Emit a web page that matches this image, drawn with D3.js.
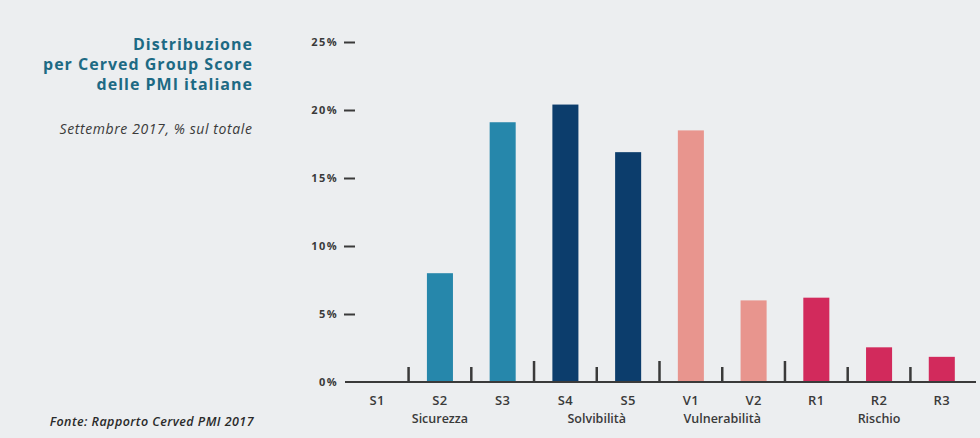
<!DOCTYPE html>
<html>
<head>
<meta charset="utf-8">
<script src="https://cdn.jsdelivr.net/npm/d3@7"></script>
<style>
  html, body { margin: 0; padding: 0; background: #eceef0; }
  svg { display: block; }
  text { font-family: "Open Sans", "Noto Sans", sans-serif; }
</style>
</head>
<body>
<svg id="chart" width="980" height="438"></svg>
<script>
// Cerved Group Score classes and share of Italian SMEs (%)
const categories = ["S1", "S2", "S3", "S4", "S5", "V1", "V2", "R1", "R2", "R3"];
const values = [0, 8.0, 19.1, 20.4, 16.9, 18.5, 6.0, 6.2, 2.55, 1.85];
const groupOf = ["sic", "sic", "sic", "sol", "sol", "vul", "vul", "ris", "ris", "ris"];

const groups = [
  { key: "sic", label: "Sicurezza", members: ["S1", "S2", "S3"] },
  { key: "sol", label: "Solvibilità", members: ["S4", "S5"] },
  { key: "vul", label: "Vulnerabilità", members: ["V1", "V2"] },
  { key: "ris", label: "Rischio", members: ["R1", "R2", "R3"] }
];
const groupColors = { sic: "#2687ab", sol: "#0c3d6c", vul: "#e8958e", ris: "#d22a5c" };

const yTicks = [0, 5, 10, 15, 20, 25];
const titleLines = ["Distribuzione", "per Cerved Group Score", "delle PMI italiane"];
const subtitle = "Settembre 2017, % sul totale";
const source = "Fonte: Rapporto Cerved PMI 2017";

const svg = d3.select("#chart");

const x = d3.scaleBand()
  .domain(categories)
  .range([346, 973])
  .paddingInner(0.585)
  .paddingOuter(0.29);

const y = d3.scaleLinear().domain([0, 25]).range([382, 42]);

// Bars
svg.append("g").selectAll("rect")
  .data(categories)
  .join("rect")
  .attr("x", d => x(d))
  .attr("width", x.bandwidth())
  .attr("y", (d, i) => y(values[i]))
  .attr("height", (d, i) => y(0) - y(values[i]))
  .attr("fill", (d, i) => groupColors[groupOf[i]]);

// Y axis: labels with a short dash, no domain line
const yAxis = d3.axisLeft(y)
  .tickValues(yTicks.filter(v => v > 0))
  .tickSize(0)
  .tickPadding(0)
  .tickFormat(d => d + "%");
const yg = svg.append("g").attr("transform", "translate(338,0)").call(yAxis);
yg.select(".domain").remove();
yg.selectAll(".tick text")
  .attr("fill", "#3a3a3a")
  .attr("font-size", 11)
  .attr("font-weight", 700)
  .attr("letter-spacing", "1.4")
  .attr("dy", "0.34em");
yg.selectAll(".tick").append("line")
  .attr("x1", 6).attr("x2", 17)
  .attr("stroke", "#3a3a3a")
  .attr("stroke-width", 2);

// Zero label and baseline
svg.append("text")
  .attr("x", 338).attr("y", y(0))
  .attr("dy", "0.34em")
  .attr("text-anchor", "end")
  .attr("fill", "#3a3a3a")
  .attr("font-size", 11)
  .attr("font-weight", 700)
  .attr("letter-spacing", "1.4")
  .text(yTicks[0] + "%");

svg.append("line")
  .attr("x1", 345).attr("x2", 976)
  .attr("y1", y(0)).attr("y2", y(0))
  .attr("stroke", "#3a3a3a")
  .attr("stroke-width", 2);

// Separators between classes; taller ones between groups
const step = x.step();
const separators = categories.slice(1).map((c, i) => ({
  pos: x(c) - (step - x.bandwidth()) / 2,
  major: groupOf[i] !== groupOf[i + 1]
}));
svg.append("g").selectAll("line")
  .data(separators)
  .join("line")
  .attr("x1", d => d.pos).attr("x2", d => d.pos)
  .attr("y1", y(0))
  .attr("y2", d => d.major ? y(0) - 21 : y(0) - 15)
  .attr("stroke", "#3a3a3a")
  .attr("stroke-width", 2.5);

// Class labels
const xAxis = d3.axisBottom(x).tickSize(0).tickPadding(0);
const xg = svg.append("g").attr("transform", "translate(0,400.5)").call(xAxis);
xg.select(".domain").remove();
xg.selectAll(".tick text")
  .attr("fill", "#3a3a3a")
  .attr("font-size", 13)
  .attr("font-weight", 600)
  .attr("letter-spacing", "0.4")
  .attr("dy", "0.34em")
  .attr("y", 0);

// Group labels centred under their classes
svg.append("g").selectAll("text")
  .data(groups)
  .join("text")
  .attr("x", g => {
    const first = x(g.members[0]);
    const last = x(g.members[g.members.length - 1]) + x.bandwidth();
    return (first + last) / 2;
  })
  .attr("y", 423)
  .attr("text-anchor", "middle")
  .attr("fill", "#3a3a3a")
  .attr("font-size", 12.5)
  .attr("font-weight", 600)
  .text(g => g.label);

// Title block
svg.append("g").selectAll("text")
  .data(titleLines)
  .join("text")
  .attr("x", 253)
  .attr("y", (d, i) => 49.5 + i * 20.3)
  .attr("text-anchor", "end")
  .attr("fill", "#1d6a84")
  .attr("font-size", 16)
  .attr("font-weight", 700)
  .attr("letter-spacing", "1")
  .text(d => d);

svg.append("text")
  .attr("x", 252.5).attr("y", 134)
  .attr("text-anchor", "end")
  .attr("fill", "#3a3a3a")
  .attr("font-size", 14)
  .attr("font-style", "italic")
  .attr("letter-spacing", "0.6")
  .text(subtitle);

svg.append("text")
  .attr("x", 254).attr("y", 426)
  .attr("text-anchor", "end")
  .attr("fill", "#2a2a2a")
  .attr("font-size", 12.5)
  .attr("font-style", "italic")
  .attr("font-weight", 600)
  .attr("letter-spacing", "0.45")
  .text(source);
</script>
</body>
</html>
